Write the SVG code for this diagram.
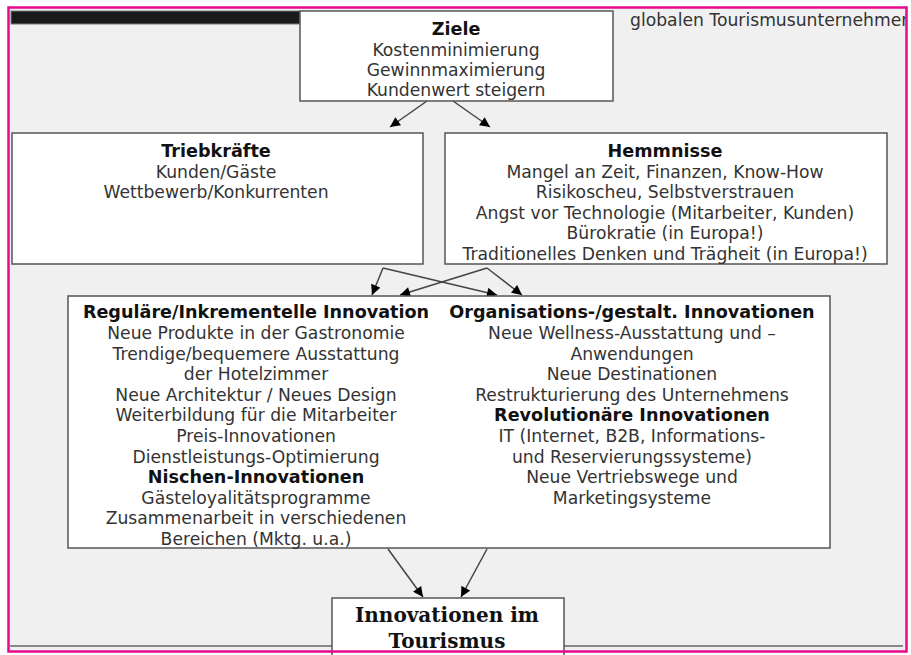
<svg xmlns="http://www.w3.org/2000/svg" width="911" height="655" viewBox="0 0 911 655">
  <style>
    .box { fill: #ffffff; stroke: #555555; stroke-width: 1.5; }
    .t { font-family: "DejaVu Sans", Verdana, sans-serif; font-size: 17.2px; fill: #333333; text-anchor: middle; }
    .b { font-weight: bold; font-size: 17.6px; fill: #111111; }
    .big { font-family: "DejaVu Serif", "Liberation Serif", serif; font-size: 20px; font-weight: bold; fill: #111111; text-anchor: middle; }
    .con line { stroke: #444444; stroke-width: 1.5; marker-end: url(#arrow); }
  </style>
  <defs>
    <marker id="arrow" viewBox="0 0 10 10" refX="10" refY="5" markerWidth="11" markerHeight="10" markerUnits="userSpaceOnUse" orient="auto">
      <path d="M0,0 L10,5 L0,10 Z" fill="#000000"/>
    </marker>
    <clipPath id="frame">
      <rect x="9" y="8" width="897" height="643"/>
    </clipPath>
  </defs>

  <!-- page background and frame -->
  <rect x="0" y="0" width="911" height="655" fill="#ffffff"/>
  <rect x="8" y="7" width="899" height="645" fill="#f0f0f0"/>

  <g clip-path="url(#frame)">
    <!-- dark bar and trailing heading at the top -->
    <rect x="11" y="11" width="289" height="13" fill="#1a1a1a" stroke="#777777" stroke-width="1"/>
    <text class="t" x="630" y="26" style="text-anchor:start">globalen Tourismusunternehmer</text>
    <!-- base line at the bottom -->
    <line x1="10" y1="646" x2="903" y2="646" stroke="#666666" stroke-width="1.5"/>
  </g>

  <!-- connectors -->
  <g id="connectors" class="con">
    <line x1="427" y1="101" x2="390" y2="127"/>
    <line x1="453" y1="101" x2="490" y2="127"/>
    <line x1="383" y1="268" x2="372" y2="295"/>
    <line x1="383" y1="268" x2="497" y2="295"/>
    <line x1="487" y1="268" x2="400" y2="295"/>
    <line x1="487" y1="268" x2="522" y2="295"/>
    <line x1="388" y1="549" x2="423" y2="597"/>
    <line x1="487" y1="549" x2="461" y2="597"/>
  </g>

  <g id="ziele">
    <rect class="box" x="300" y="11" width="313" height="90"/>
    <text class="t b" x="456" y="35">Ziele</text>
    <text class="t" x="456" y="56">Kostenminimierung</text>
    <text class="t" x="456" y="76">Gewinnmaximierung</text>
    <text class="t" x="456" y="96">Kundenwert steigern</text>
  </g>

  <g id="triebkraefte">
    <rect class="box" x="12" y="133" width="411" height="131"/>
    <text class="t b" x="216" y="157">Triebkräfte</text>
    <text class="t" x="216" y="178">Kunden/Gäste</text>
    <text class="t" x="216" y="198">Wettbewerb/Konkurrenten</text>
  </g>

  <g id="hemmnisse">
    <rect class="box" x="445" y="133" width="442" height="131"/>
    <text class="t b" x="665" y="157">Hemmnisse</text>
    <text class="t" x="665" y="178">Mangel an Zeit, Finanzen, Know-How</text>
    <text class="t" x="665" y="198">Risikoscheu, Selbstverstrauen</text>
    <text class="t" x="665" y="219">Angst vor Technologie (Mitarbeiter, Kunden)</text>
    <text class="t" x="665" y="239">Bürokratie (in Europa!)</text>
    <text class="t" x="665" y="260">Traditionelles Denken und Trägheit (in Europa!)</text>
  </g>

  <g id="innovationsarten">
    <rect class="box" x="68" y="296" width="762" height="252"/>
    <text class="t b" x="256" y="318">Reguläre/Inkrementelle Innovation</text>
    <text class="t" x="256" y="339">Neue Produkte in der Gastronomie</text>
    <text class="t" x="256" y="360">Trendige/bequemere Ausstattung</text>
    <text class="t" x="256" y="380">der Hotelzimmer</text>
    <text class="t" x="256" y="401">Neue Architektur / Neues Design</text>
    <text class="t" x="256" y="421">Weiterbildung für die Mitarbeiter</text>
    <text class="t" x="256" y="442">Preis-Innovationen</text>
    <text class="t" x="256" y="463">Dienstleistungs-Optimierung</text>
    <text class="t b" x="256" y="483">Nischen-Innovationen</text>
    <text class="t" x="256" y="504">Gästeloyalitätsprogramme</text>
    <text class="t" x="256" y="524">Zusammenarbeit in verschiedenen</text>
    <text class="t" x="256" y="545">Bereichen (Mktg. u.a.)</text>

    <text class="t b" x="632" y="318">Organisations-/gestalt. Innovationen</text>
    <text class="t" x="632" y="339">Neue Wellness-Ausstattung und –</text>
    <text class="t" x="632" y="360">Anwendungen</text>
    <text class="t" x="632" y="380">Neue Destinationen</text>
    <text class="t" x="632" y="401">Restrukturierung des Unternehmens</text>
    <text class="t b" x="632" y="421">Revolutionäre Innovationen</text>
    <text class="t" x="632" y="442">IT (Internet, B2B, Informations-</text>
    <text class="t" x="632" y="463">und Reservierungssysteme)</text>
    <text class="t" x="632" y="483">Neue Vertriebswege und</text>
    <text class="t" x="632" y="504">Marketingsysteme</text>
  </g>

  <g id="innovationen-tourismus">
    <rect class="box" x="332" y="598" width="232" height="60"/>
    <text class="big" x="447" y="622">Innovationen im</text>
    <text class="big" x="447" y="648">Tourismus</text>
  </g>

  <!-- magenta frame -->
  <rect x="8.5" y="7.5" width="898" height="644" fill="none" stroke="#e8088c" stroke-width="2.5"/>
</svg>
